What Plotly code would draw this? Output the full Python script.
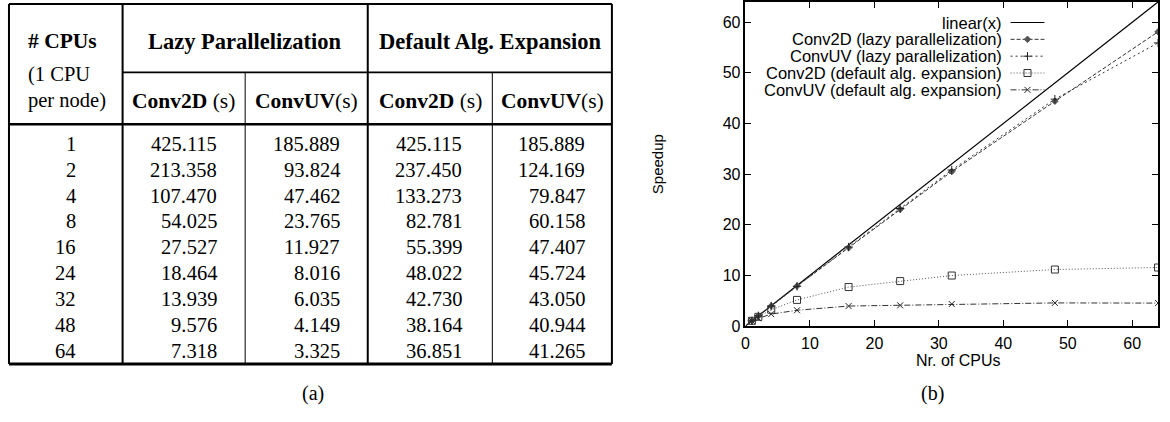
import plotly.graph_objects as go

# ---------------- data ----------------
cpus = [1, 2, 4, 8, 16, 24, 32, 48, 64]
conv2d_lazy = [425.115, 213.358, 107.470, 54.025, 27.527, 18.464, 13.939, 9.576, 7.318]
convuv_lazy = [185.889, 93.824, 47.462, 23.765, 11.927, 8.016, 6.035, 4.149, 3.325]
conv2d_default = [425.115, 237.450, 133.273, 82.781, 55.399, 48.022, 42.730, 38.164, 36.851]
convuv_default = [185.889, 124.169, 79.847, 60.158, 47.407, 45.724, 43.050, 40.944, 41.265]
linear_x = [0, 64]

series_names = [
    "Conv2D (lazy parallelization)",
    "ConvUV (lazy parallelization)",
    "Conv2D (default alg. expansion)",
    "ConvUV (default alg. expansion)",
]
header_groups = ["Lazy Parallelization", "Default Alg. Expansion"]
sub_headers = ["<b>Conv2D</b> (s)", "<b>ConvUV</b>(s)", "<b>Conv2D</b> (s)", "<b>ConvUV</b>(s)"]
x_ticks = [0, 10, 20, 30, 40, 50, 60]
y_ticks = [0, 10, 20, 30, 40, 50, 60]


def speedup(times):
    return [times[0] / t for t in times]


W, H = 1170, 422
fig = go.Figure()

# ---------------- chart ----------------
styles = [
    dict(dash="4px,2px", symbol="diamond", size=5, color="#333", mcolor="#555"),
    dict(dash="2px,3px", symbol="cross-thin", size=6, color="#333", mcolor="#222"),
    dict(dash="1px,2px", symbol="square-open", size=7, color="#555", mcolor="#333"),
    dict(dash="6px,2px,1px,2px", symbol="x-thin", size=6, color="#333", mcolor="#222"),
]
all_times = [conv2d_lazy, convuv_lazy, conv2d_default, convuv_default]

fig.add_trace(go.Scatter(x=linear_x, y=linear_x, mode="lines",
                         line=dict(color="black", width=1.2), showlegend=False,
                         xaxis="x", yaxis="y"))
for times, st in zip(all_times, styles):
    fig.add_trace(go.Scatter(
        x=cpus, y=speedup(times), mode="lines+markers",
        line=dict(color=st["color"], width=1, dash=st["dash"]),
        marker=dict(symbol=st["symbol"], size=st["size"], color=st["mcolor"],
                    line=dict(color=st["mcolor"], width=1)),
        showlegend=False, xaxis="x", yaxis="y"))

# custom legend (gnuplot-style: text right-aligned, sample on the right)
leg_labels = ["linear(x)"] + series_names
leg_y0 = 23
leg_dy = 17.2
for i, lab in enumerate(leg_labels):
    yy = leg_y0 + i * leg_dy
    fig.add_annotation(x=1003, y=yy, xref="x2", yref="y2", text=lab, showarrow=False,
                       xanchor="right", yanchor="middle",
                       font=dict(family="Liberation Sans, Arial", size=16.5, color="black"))
    if i == 0:
        fig.add_trace(go.Scatter(x=[1010, 1044], y=[yy, yy], mode="lines",
                                 line=dict(color="black", width=1.2),
                                 showlegend=False, xaxis="x2", yaxis="y2", hoverinfo="skip"))
    else:
        st = styles[i - 1]
        fig.add_trace(go.Scatter(x=[1010, 1044], y=[yy, yy], mode="lines",
                                 line=dict(color=st["color"], width=1, dash=st["dash"]),
                                 showlegend=False, xaxis="x2", yaxis="y2", hoverinfo="skip"))
        fig.add_trace(go.Scatter(x=[1027], y=[yy], mode="markers",
                                 marker=dict(symbol=st["symbol"], size=st["size"], color=st["mcolor"],
                                             line=dict(color=st["mcolor"], width=1)),
                                 showlegend=False, xaxis="x2", yaxis="y2", hoverinfo="skip"))

# axis titles
fig.add_annotation(x=957, y=368, xref="x2", yref="y2", text="Nr. of CPUs", showarrow=False,
                   font=dict(family="Liberation Sans, Arial", size=16, color="black"))
fig.add_annotation(x=656, y=168, xref="x2", yref="y2", text="Speedup", showarrow=False,
                   textangle=-90, font=dict(family="Liberation Sans, Arial", size=15, color="black"))
fig.add_annotation(x=932, y=402, xref="x2", yref="y2", text="(b)", showarrow=False,
                   font=dict(family="Liberation Serif, serif", size=20, color="black"))
fig.add_annotation(x=310, y=402, xref="x2", yref="y2", text="(a)", showarrow=False,
                   font=dict(family="Liberation Serif, serif", size=20, color="black"))

# ---------------- table ----------------
col_edges = [5, 119, 242, 365, 490, 610]
top, split_y, head_bottom, bottom = 4, 74, 127, 372
lines = [
    (col_edges[0], top, col_edges[-1], top, 2),
    (col_edges[0], top, col_edges[0], bottom, 2),
    (col_edges[-1], top, col_edges[-1], bottom, 2),
    (col_edges[1], top, col_edges[1], bottom, 2),
    (col_edges[3], top, col_edges[3], bottom, 2),
    (col_edges[2], split_y, col_edges[2], bottom, 1),
    (col_edges[4], split_y, col_edges[4], bottom, 1),
    (col_edges[1], split_y, col_edges[-1], split_y, 1.6),
    (col_edges[0], head_bottom, col_edges[-1], head_bottom, 2.5),
    (col_edges[0], bottom, col_edges[-1], bottom, 3),
]
for x0, y0, x1, y1, w in lines:
    fig.add_shape(type="line", x0=x0, y0=y0, x1=x1, y1=y1, xref="x2", yref="y2",
                  line=dict(color="black", width=w))

serif = "Liberation Serif, Times New Roman, serif"
tfont = dict(family=serif, size=20.5, color="black")
hfont = dict(family=serif, size=22.5, color="black")
sfont = dict(family=serif, size=21.5, color="black")
fig.add_annotation(x=22, y=42, xref="x2", yref="y2", text="<b># CPUs</b>", showarrow=False,
                   xanchor="left", font=sfont)
fig.add_annotation(x=22, y=76, xref="x2", yref="y2", text="(1 CPU", showarrow=False,
                   xanchor="left", font=tfont)
fig.add_annotation(x=22, y=103, xref="x2", yref="y2", text="per node)", showarrow=False,
                   xanchor="left", font=tfont)
for g, (a, b) in zip(header_groups, [(col_edges[1], col_edges[3]), (col_edges[3], col_edges[5])]):
    fig.add_annotation(x=(a + b) / 2, y=42, xref="x2", yref="y2", text=f"<b>{g}</b>",
                       showarrow=False, font=hfont)
for i, sh in enumerate(sub_headers):
    fig.add_annotation(x=(col_edges[i + 1] + col_edges[i + 2]) / 2, y=103, xref="x2", yref="y2",
                       text=sh, showarrow=False, font=sfont)

row_y0, row_dy = 147, 26.4
right_edges = [74, 216, 339, 462, 585]
columns = [[str(c) for c in cpus]] + [[f"{v:.3f}" for v in col] for col in all_times]
for r in range(len(cpus)):
    yy = row_y0 + r * row_dy
    for c, col in enumerate(columns):
        fig.add_annotation(x=right_edges[c], y=yy, xref="x2", yref="y2", text=col[r],
                           showarrow=False, xanchor="right", font=tfont)

# ---------------- layout ----------------
axis_font = dict(family="Liberation Sans, Arial", size=16, color="black")
fig.update_layout(
    width=W, height=H, margin=dict(l=0, r=0, t=0, b=0),
    paper_bgcolor="white", plot_bgcolor="rgba(0,0,0,0)",
    xaxis=dict(domain=[744 / W, 1158 / W], range=[0, 64], tickvals=x_ticks,
               ticks="inside", ticklen=6, tickcolor="black", showline=True, linecolor="black",
               linewidth=1.5, mirror="ticks", showgrid=False, zeroline=False,
               tickfont=axis_font, anchor="y", ticklabelstandoff=2),
    yaxis=dict(domain=[(H - 333) / H, (H - 2) / H], range=[0, 64], tickvals=y_ticks,
               ticks="inside", ticklen=6, tickcolor="black", showline=True, linecolor="black",
               linewidth=1.5, mirror="ticks", showgrid=False, zeroline=False,
               tickfont=axis_font, anchor="x"),
    xaxis2=dict(domain=[0, 1], range=[0, W], visible=False, anchor="y2", fixedrange=True),
    yaxis2=dict(domain=[0, 1], range=[H, 0], visible=False, anchor="x2", fixedrange=True),
)

fig.write_html("out.html")
